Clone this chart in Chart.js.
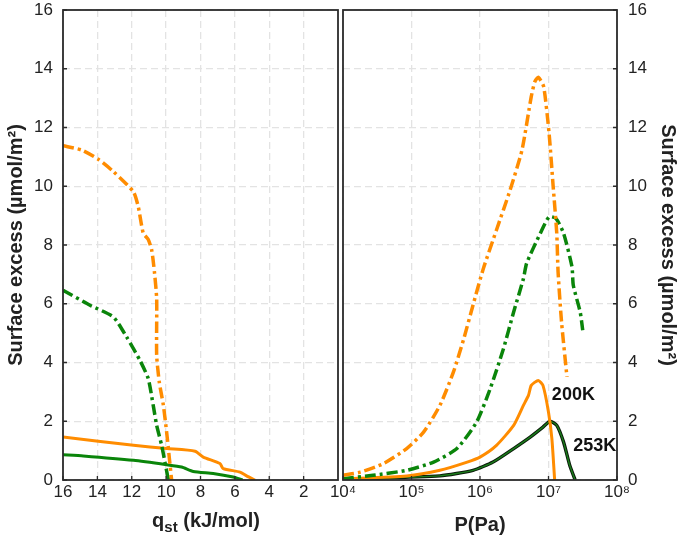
<!DOCTYPE html>
<html>
<head>
<meta charset="utf-8">
<script src="https://cdn.jsdelivr.net/npm/chart.js@4.4.1/dist/chart.umd.min.js"></script>
<style>
  html, body { margin: 0; padding: 0; background: #fff; }
  #wrap { position: relative; width: 685px; height: 544px; }
  #leftChart { position: absolute; left: 0; top: 0; }
  #rightChart { position: absolute; left: 300px; top: 0; }
</style>
</head>
<body>
<div id="wrap">
  <canvas id="leftChart" width="340" height="544"></canvas>
  <canvas id="rightChart" width="385" height="544"></canvas>
</div>
<script>
// left panel: surface excess vs isosteric heat q_st (kJ/mol)
const qOrangeDash = [16, 14.9, 13.95, 13.07, 11.9, 11.62, 11.33, 11.04, 10.84, 10.68, 10.55, 10.55, 10.4, 10.16, 9.97, 9.81, 9.68];
const yOrangeDash = [11.38, 11.23, 10.92, 10.5, 9.81, 9.3, 8.4, 8.19, 7.83, 7.08, 6.17, 4.24, 3.34, 2.54, 1.63, 0.73, 0];
const qGreenDash = [16, 14.43, 13.07, 12.3, 11.52, 11.04, 10.75, 10.55, 10.26, 10.07, 9.87];
const yGreenDash = [6.46, 5.95, 5.55, 4.87, 4.07, 3.45, 2.54, 1.86, 1.18, 0.61, 0];
const qOrangeSolid = [16, 11.9, 9.97, 8.32, 7.84, 6.87, 6.68, 5.7, 5.32, 4.83];
const yOrangeSolid = [1.46, 1.18, 1.07, 0.98, 0.78, 0.56, 0.39, 0.27, 0.14, 0];
const qGreenSolid = [16, 14.82, 11.9, 9.97, 9.1, 8.42, 7.26, 6.1, 5.55];
const yGreenSolid = [0.86, 0.82, 0.67, 0.52, 0.44, 0.29, 0.22, 0.1, 0];

// right panel: surface excess vs pressure P (Pa)
const pOrangeDash = [1e4, 1.8e4, 3.9e4, 8.5e4, 1.5e5, 2.6e5, 4.1e5, 5.8e5, 7.9e5, 1.12e6, 1.74e6, 2.75e6, 4.1e6, 5.6e6, 6.3e6, 7.1e6, 8.5e6, 1.02e7, 1.17e7, 1.32e7, 1.38e7, 1.55e7, 1.86e7];
const sOrangeDash = [0.16, 0.27, 0.56, 1.07, 1.63, 2.54, 3.68, 4.81, 5.95, 7.2, 8.51, 9.87, 11.23, 13.05, 13.55, 13.71, 13.39, 11.8, 9.99, 8.4, 7.08, 5.38, 3.51];
const pGreenDash = [1e4, 2.75e4, 8.5e4, 2.1e5, 4.6e5, 8.9e5, 1.41e6, 2.2e6, 3.1e6, 4.3e6, 4.8e6, 7.6e6, 1.02e7, 1.29e7, 1.66e7, 2.2e7, 2.3e7, 2.9e7, 3.16e7];
const sGreenDash = [0.04, 0.16, 0.33, 0.61, 1.07, 1.97, 3.11, 4.47, 5.72, 6.85, 7.38, 8.4, 8.96, 8.9, 8.4, 7.26, 6.63, 5.72, 5.1];
const pOrangeSolid = [1e4, 8.5e4, 2.6e5, 6.5e5, 1e6, 1.74e6, 3.1e6, 4.3e6, 5.1e6, 5.6e6, 7.1e6, 8.3e6, 1e7, 1.12e7, 1.23e7];
const sOrangeSolid = [0.04, 0.14, 0.33, 0.61, 0.78, 1.18, 1.86, 2.54, 2.88, 3.22, 3.39, 3.22, 2.31, 1.41, 0];
const pGreenSolid = [1e4, 2.6e5, 7.9e5, 1.55e6, 3.1e6, 5.4e6, 8.3e6, 1.05e7, 1.32e7, 1.66e7, 2.04e7, 2.45e7];
const sGreenSolid = [0.02, 0.14, 0.33, 0.61, 1.07, 1.46, 1.8, 2.0, 1.86, 1.29, 0.5, 0];

const yTicks = [0, 2, 4, 6, 8, 10, 12, 14, 16];
const qTicks = [16, 14, 12, 10, 8, 6, 4, 2];
const pTicks = [1e4, 1e5, 1e6, 1e7, 1e8];
const curveLabels = [
  { text: "200K", p: 1.12e7, s: 2.9 },
  { text: "253K", p: 2.3e7, s: 1.16 }
];

const ORANGE = "#ff8c00";
const GREEN = "#0a850a";
const DASHDOT = [11, 4, 3, 4];
const FONT = "'Liberation Sans', Arial, sans-serif";

const pts = (xs, ys) => xs.map((x, i) => ({ x: x, y: ys[i] }));
const sup = { "0": "⁰", "1": "¹", "2": "²", "3": "³", "4": "⁴", "5": "⁵", "6": "⁶", "7": "⁷", "8": "⁸", "9": "⁹" };

function line(data, color, width, dash, order) {
  return {
    data: data,
    borderColor: color,
    borderWidth: width,
    borderDash: dash || [],
    pointRadius: 0,
    tension: 0.2,
    fill: false,
    order: order || 0
  };
}

// frame round the plot area plus short inward ticks
const framePlugin = {
  id: "frame",
  afterDraw(chart, args, opts) {
    const { ctx, chartArea: a, scales } = chart;
    ctx.save();
    ctx.strokeStyle = "#2b2b2b";
    ctx.lineWidth = 1.3;
    ctx.beginPath();
    scales.x.ticks.forEach(t => {
      const px = scales.x.getPixelForValue(t.value);
      ctx.moveTo(px, a.bottom);
      ctx.lineTo(px, a.bottom - 4);
    });
    scales.y.ticks.forEach(t => {
      const py = scales.y.getPixelForValue(t.value);
      if (opts.side === "left") { ctx.moveTo(a.left, py); ctx.lineTo(a.left + 4, py); }
      else { ctx.moveTo(a.right, py); ctx.lineTo(a.right - 4, py); }
    });
    ctx.stroke();
    ctx.lineWidth = 1.8;
    ctx.strokeRect(a.left, a.top, a.right - a.left, a.bottom - a.top);
    ctx.restore();
  }
};

// x title with subscript: q_st (kJ/mol)
const qTitlePlugin = {
  id: "qTitle",
  afterDraw(chart) {
    const { ctx } = chart;
    const big = "bold 20px " + FONT, small = "bold 15px " + FONT;
    ctx.save();
    ctx.fillStyle = "#222";
    ctx.textBaseline = "alphabetic";
    ctx.font = big;
    const w1 = ctx.measureText("q").width, w3 = ctx.measureText(" (kJ/mol)").width;
    ctx.font = small;
    const w2 = ctx.measureText("st").width;
    let x = 206 - (w1 + w2 + w3) / 2;
    ctx.font = big;
    ctx.fillText("q", x, 527);
    ctx.font = small;
    ctx.fillText("st", x + w1, 532);
    ctx.font = big;
    ctx.fillText(" (kJ/mol)", x + w1 + w2, 527);
    ctx.restore();
  }
};

const curveLabelPlugin = {
  id: "curveLabels",
  afterDatasetsDraw(chart) {
    const { ctx, scales } = chart;
    ctx.save();
    ctx.font = "bold 18px " + FONT;
    ctx.fillStyle = "#111";
    ctx.textAlign = "left";
    ctx.textBaseline = "middle";
    curveLabels.forEach(l => {
      ctx.fillText(l.text, scales.x.getPixelForValue(l.p), scales.y.getPixelForValue(l.s));
    });
    ctx.restore();
  }
};

const tickFont = { family: FONT, size: 17 };
const titleFont = { family: FONT, size: 20, weight: "bold" };
const gridOpts = { color: "#e3e3e3", lineWidth: 1.3, drawTicks: false };
const borderOpts = { display: false, dash: [7, 4] };

const yTitle = "Surface excess (µmol/m²)";

new Chart(document.getElementById("leftChart"), {
  type: "line",
  data: {
    datasets: [
      line(pts(qOrangeDash, yOrangeDash), ORANGE, 3.5, DASHDOT),
      line(pts(qGreenDash, yGreenDash), GREEN, 3.5, DASHDOT),
      line(pts(qOrangeSolid, yOrangeSolid), ORANGE, 3),
      line(pts(qGreenSolid, yGreenSolid), GREEN, 3)
    ]
  },
  options: {
    responsive: false,
    animation: false,
    layout: { padding: { top: 10, right: 2, left: 0, bottom: 0 } },
    plugins: { legend: { display: false }, tooltip: { enabled: false }, frame: { side: "left" } },
    scales: {
      x: {
        type: "linear",
        reverse: true,
        min: 0,
        max: 16,
        afterBuildTicks: s => { s.ticks = qTicks.map(v => ({ value: v })); },
        afterFit: s => { s.height = 64; s.paddingLeft = 0; s.paddingRight = 0; },
        ticks: { font: tickFont, color: "#222", padding: 2, maxRotation: 0 },
        grid: gridOpts,
        border: borderOpts
      },
      y: {
        min: 0,
        max: 16,
        afterBuildTicks: s => { s.ticks = yTicks.map(v => ({ value: v })); },
        afterFit: s => { s.width = 63; s.paddingTop = 0; s.paddingBottom = 0; },
        ticks: { font: tickFont, color: "#222", padding: 10 },
        grid: gridOpts,
        border: borderOpts,
        title: { display: true, text: yTitle, font: titleFont, color: "#222", padding: 4 }
      }
    }
  },
  plugins: [framePlugin, qTitlePlugin]
});

new Chart(document.getElementById("rightChart"), {
  type: "line",
  data: {
    datasets: [
      line(pts(pOrangeDash, sOrangeDash), ORANGE, 3.5, DASHDOT),
      line(pts(pGreenDash, sGreenDash), GREEN, 3.5, DASHDOT),
      line(pts(pOrangeSolid, sOrangeSolid), ORANGE, 3),
      line(pts(pGreenSolid, sGreenSolid), "#1b7d1b", 1.4, null, 0),
      line(pts(pGreenSolid, sGreenSolid), "#0a1a0a", 3.4, null, 1)
    ]
  },
  options: {
    responsive: false,
    animation: false,
    layout: { padding: { top: 10, right: 0, left: 43, bottom: 0 } },
    plugins: { legend: { display: false }, tooltip: { enabled: false }, frame: { side: "right" } },
    scales: {
      x: {
        type: "logarithmic",
        min: 1e4,
        max: 1e8,
        afterBuildTicks: s => { s.ticks = pTicks.map(v => ({ value: v })); },
        afterFit: s => { s.height = 64; s.paddingLeft = 0; s.paddingRight = 0; },
        ticks: {
          font: tickFont,
          color: "#222",
          padding: 2,
          maxRotation: 0,
          callback: v => "10" + String(Math.round(Math.log10(v))).split("").map(c => sup[c]).join("")
        },
        grid: gridOpts,
        border: borderOpts,
        title: { display: true, text: "P(Pa)", font: titleFont, color: "#222", padding: { top: 0, bottom: 7 } }
      },
      y: {
        position: "right",
        min: 0,
        max: 16,
        afterBuildTicks: s => { s.ticks = yTicks.map(v => ({ value: v })); },
        afterFit: s => { s.width = 68; s.paddingTop = 0; s.paddingBottom = 0; },
        ticks: { font: tickFont, color: "#222", padding: 11 },
        grid: gridOpts,
        border: borderOpts,
        title: { display: true, text: yTitle, font: titleFont, color: "#222", padding: 5 }
      }
    }
  },
  plugins: [framePlugin, curveLabelPlugin]
});
</script>
</body>
</html>
